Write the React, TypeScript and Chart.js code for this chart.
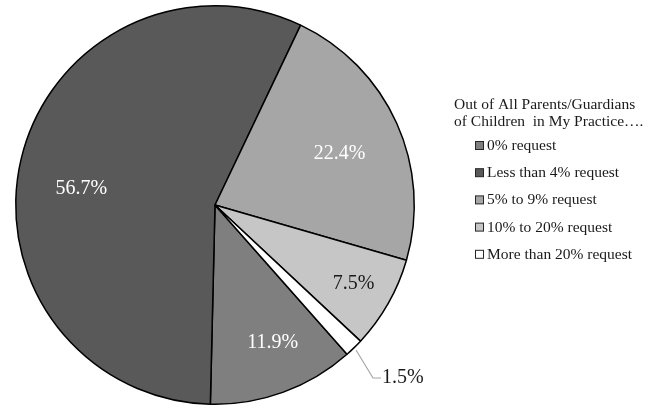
import React, { useEffect, useRef } from "react";
import { Chart, registerables } from "chart.js";

Chart.register(...registerables);

const categories = [
  "0% request",
  "Less than 4% request",
  "5% to 9% request",
  "10% to 20% request",
  "More than 20% request",
];
const values = [11.9, 56.7, 22.4, 7.5, 1.5];
const valueLabels = ["11.9%", "56.7%", "22.4%", "7.5%", "1.5%"];
const legendTitle = ["Out of All Parents/Guardians", "of Children  in My Practice…."];

const colors = ["#7f7f7f", "#595959", "#a6a6a6", "#c6c6c6", "#ffffff"];
const labelColors = ["#ffffff", "#ffffff", "#ffffff", "#1a1a1a", "#1a1a1a"];
const labelRadius = [0.75, 0.675, 0.675, 0.8, -1];
const labelShiftDeg = [-2.6, -6.6, 2, 0, 0];
const FONT = '"Liberation Serif", "Times New Roman", serif';

const overlay = {
  id: "overlay",
  afterDatasetsDraw(chart: any) {
    const ctx = chart.ctx as CanvasRenderingContext2D;
    const meta = chart.getDatasetMeta(0);
    ctx.save();
    ctx.textAlign = "center";
    ctx.textBaseline = "middle";
    ctx.font = `20px ${FONT}`;
    meta.data.forEach((arc: any, i: number) => {
      const p = arc.getProps(["x", "y", "startAngle", "endAngle", "outerRadius"], true);
      const mid = (p.startAngle + p.endAngle) / 2 + (labelShiftDeg[i] * Math.PI) / 180;
      if (labelRadius[i] > 0) {
        const r = p.outerRadius * labelRadius[i];
        ctx.fillStyle = labelColors[i];
        ctx.fillText(valueLabels[i], p.x + Math.cos(mid) * r, p.y + Math.sin(mid) * r);
      } else {
        const ex = p.x + Math.cos(mid) * (p.outerRadius + 3);
        const ey = p.y + Math.sin(mid) * (p.outerRadius + 3);
        const bx = ex + 17;
        const by = ey + 28;
        ctx.strokeStyle = "#a6a6a6";
        ctx.lineWidth = 1.2;
        ctx.beginPath();
        ctx.moveTo(ex, ey);
        ctx.lineTo(bx, by);
        ctx.lineTo(bx + 8, by);
        ctx.stroke();
        ctx.fillStyle = "#1a1a1a";
        ctx.textAlign = "left";
        ctx.fillText(valueLabels[i], bx + 9, by);
        ctx.textAlign = "center";
      }
    });
    // legend
    ctx.textAlign = "left";
    ctx.fillStyle = "#1a1a1a";
    ctx.font = `15.5px ${FONT}`;
    legendTitle.forEach((t, k) => ctx.fillText(t, 454, 105 + k * 17));
    categories.forEach((c, i) => {
      const y = 146 + i * 27.2;
      ctx.fillStyle = colors[i];
      ctx.fillRect(475.5, y - 4.5, 8, 8);
      ctx.strokeStyle = "#262626";
      ctx.lineWidth = 1;
      ctx.strokeRect(475.5, y - 4.5, 8, 8);
      ctx.fillStyle = "#1a1a1a";
      ctx.fillText(c, 487, y);
    });
    ctx.restore();
  },
};

export default function App() {
  const ref = useRef<HTMLCanvasElement>(null);
  useEffect(() => {
    document.body.style.margin = "0";
    const chart = new Chart(ref.current!, {
      type: "pie",
      data: {
        labels: categories,
        datasets: [
          {
            data: values,
            backgroundColor: colors,
            borderColor: "#000000",
            borderWidth: 1.5,
          },
        ],
      },
      options: {
        animation: false,
        responsive: true,
        maintainAspectRatio: false,
        rotation: 138.5,
        layout: { padding: { left: 15, top: 5, right: 235, bottom: 3 } },
        plugins: { legend: { display: false }, tooltip: { enabled: false } },
      },
      plugins: [overlay],
    });
    return () => chart.destroy();
  }, []);
  return (
    <div style={{ position: "relative", width: 650, height: 408, background: "#fff" }}>
      <canvas ref={ref} />
    </div>
  );
}
